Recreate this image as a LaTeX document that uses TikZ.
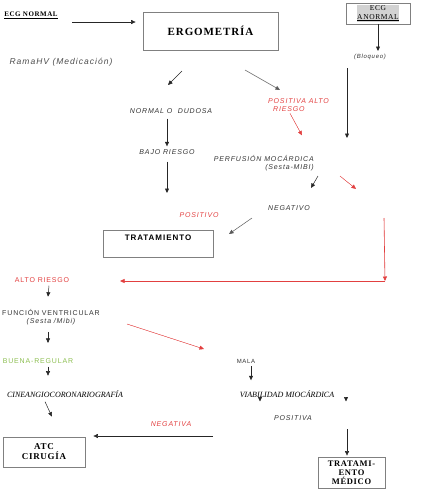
\documentclass[tikz,border=0pt]{standalone}
\usepackage{fontspec}
\setmainfont{Liberation Serif}
\newfontfamily\lblfont[LetterSpace=12]{Liberation Sans}
\newfontfamily\boxfont[LetterSpace=8]{Liberation Serif}
\usetikzlibrary{arrows.meta}
\definecolor{myred}{RGB}{226,64,64}
\definecolor{mygreen}{RGB}{140,190,80}

\begin{document}
\begin{tikzpicture}[x=1pt,y=-1pt]
\tikzstyle{box}=[draw=gray,line width=0.8pt,inner sep=0pt]
\tikzstyle{lbl}=[inner sep=0pt,text=black!80,font=\lblfont\fontsize{7}{8}\selectfont\itshape]
\tikzstyle{up}=[inner sep=0pt,text=black!80,font=\lblfont\fontsize{7}{8}\selectfont]
\tikzstyle{bx}=[font=\boxfont\bfseries\fontsize{9}{10}\selectfont,align=center]
\tikzstyle{arr}=[-{Triangle[length=4.5pt,width=4pt]},line width=0.5pt,draw=black!85]
\tikzstyle{rarr}=[arr,draw=myred,fill=myred]
\useasboundingbox (0,0) rectangle (430,493);
% boxes
\node[inner sep=0pt,font=\boxfont\bfseries\fontsize{7}{8}\selectfont] (ecgn) at (31,15) {\underline{ECG NORMAL}};
\node[box,bx,minimum width=135pt,minimum height=38pt,font=\boxfont\bfseries\fontsize{11}{12}\selectfont] (ergo) at (210.5,31) {ERGOMETRÍA};
\node[box,minimum width=64pt,minimum height=21pt] (anormal) at (378,13.5) {};
\node[fill=gray!35,inner sep=0.5pt,align=center,font=\boxfont\fontsize{7.5}{8.5}\selectfont] (anormaltxt) at (anormal) {ECG\\\underline{ANORMAL}};
\node[box,minimum width=110pt,minimum height=27pt] (trat) at (158,243.5) {};
\node[inner sep=0pt,font=\lblfont\bfseries\fontsize{8}{9}\selectfont] (trattxt) at (158,238) {TRATAMIENTO};
\node[box,bx,minimum width=82pt,minimum height=30pt] (atc) at (44,452) {ATC\\CIRUGÍA};
\node[box,bx,minimum width=67pt,minimum height=31pt,font=\boxfont\bfseries\fontsize{8.5}{9}\selectfont] (tmed) at (351.5,472.5) {TRATAMI-\\ENTO\\MÉDICO};
% labels
\node[lbl,font=\lblfont\fontsize{6}{7}\selectfont\itshape] (bloqueo) at (370,57) {(Bloqueo)};
\node[lbl,text=black!70,font=\lblfont\fontsize{8.5}{9}\selectfont\itshape] (rama) at (61,62) {RamaHV (Medicación)};
\node[lbl] (normal) at (171,111) {NORMAL O \ DUDOSA};
\node[lbl] (bajo) at (167,152) {BAJO RIESGO};
\node[lbl,text=myred,align=left,anchor=north west] (posalto) at (268,98) {POSITIVA ALTO\\\hspace{5pt}RIESGO};
\node[lbl,align=right,anchor=north east] (perf) at (314,155) {PERFUSIÓN MOCÁRDICA\\(Sesta-MIBI)};
\node[lbl] (negativo) at (289,208) {NEGATIVO};
\node[lbl,text=myred] (positivo) at (199,215) {POSITIVO};
\node[up,text=myred] (alto) at (42,280) {ALTO RIESGO};
\node[up,align=center,anchor=north] (func) at (51,309) {FUNCIÓN VENTRICULAR\\{\itshape(Sesta /Mibi)}};
\node[up,text=mygreen] (buena) at (38,361) {BUENA-REGULAR};
\node[inner sep=0pt,font=\rmfamily\itshape\fontsize{8}{9}\selectfont] (cine) at (65,394) {CINEANGIOCORONARIOGRAFÍA};
\node[lbl,text=myred] (negativa) at (171,424) {NEGATIVA};
\node[up,font=\lblfont\fontsize{6}{7}\selectfont] (mala) at (246,361) {MALA};
\node[inner sep=0pt,font=\rmfamily\itshape\fontsize{8}{9}\selectfont] (viab) at (287,394) {VIABILIDAD MIOCÁRDICA};
\node[lbl] (positiva) at (293,418) {POSITIVA};
% free ends
\coordinate (e1) at (72,22);
\coordinate (e2) at (182,71);   \coordinate (e3) at (168,85);
\coordinate (e4) at (245,70);   \coordinate (e5) at (280,90);
\coordinate (e6) at (167,193);
\coordinate (e7) at (347,68);   \coordinate (e8) at (347,138);
\coordinate (e9) at (318,176);  \coordinate (e10) at (311,188);
\coordinate (e11) at (340,176); \coordinate (e12) at (356,189);
\coordinate (e13) at (252,218); \coordinate (e14) at (229,234);
\coordinate (e15) at (384,218); \coordinate (e16) at (385,281);
\coordinate (e17) at (120,281);
\coordinate (e18) at (127,324); \coordinate (e19) at (204,349);
\coordinate (e20) at (213,436);
\coordinate (e21) at (260,397); \coordinate (e22) at (346,397);
\coordinate (e23) at (347,429);
% connectors
\draw[arr] (e1) -- (e1 -| ergo.west) [shorten >=7pt];
\draw[arr] (e2) -- (e3);
\draw[arr,draw=black!65] (e4) -- (e5);
\draw[arr] (anormal.south) -- (anormal.south |- bloqueo.north) [shorten >=3pt];
\draw[arr] (normal.south) ++(-4,5) -- (bajo.north -| e6) [shorten >=3pt];
\draw[arr] (bajo.south -| e6) ++(0,7) -- (e6);
\draw[rarr,line width=0.4pt] (posalto.south west) ++(22,2) -- ++(12,22);
\draw[arr] (e7) -- (e8);
\draw[arr] (e9) -- (e10);
\draw[rarr,line width=0.4pt] (e11) -- (e12);
\draw[arr,draw=black!65] (e13) -- (e14);
\draw[rarr,line width=0.6pt] (e15) -- (e16);
\draw[rarr,line width=0.4pt] (e16) -- (e17);
\draw[arr] (alto.south) ++(7,3) -- ++(-1,11);
\draw[rarr,line width=0.4pt] (e18) -- (e19);
\draw[arr] (func.south -| buena) ++(10,7) -- ++(0,11);
\draw[arr] (buena.south) ++(10,3) -- ++(0,9);
\draw[arr] (cine.south) ++(-20,4) -- ++(7,15);
\draw[arr] (e20) -- (e20 -| atc.east) [shorten >=8pt];
\draw[arr] (mala.south) ++(5,3) -- ++(0,14);
\draw[arr] (e21) -- ++(0,4.5);
\draw[arr] (e22) -- ++(0,4.5);
\draw[arr] (e23) -- (e23 |- tmed.north) [shorten >=1pt];
\end{tikzpicture}
\end{document}
